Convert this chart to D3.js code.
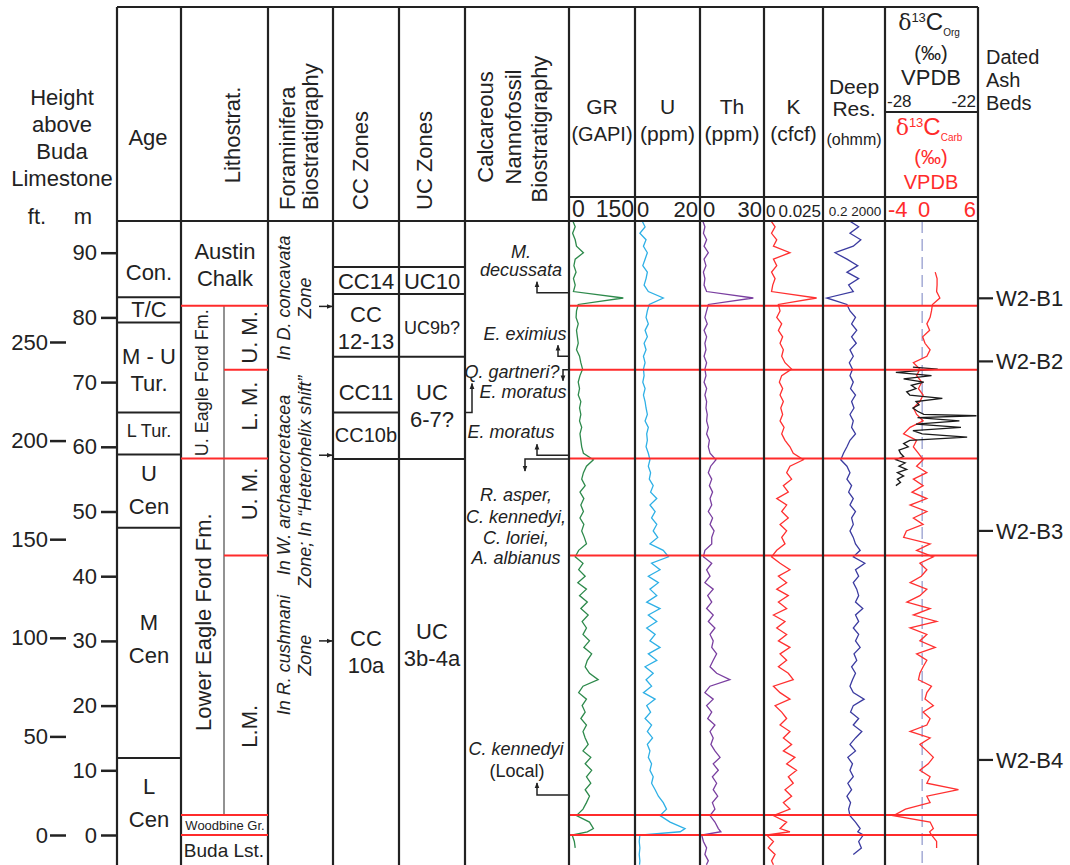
<!DOCTYPE html>
<html>
<head>
<meta charset="utf-8">
<script src="https://cdn.jsdelivr.net/npm/d3@7"></script>
<style>
body { margin: 0; background: #fff; }
svg { display: block; }
text { font-family: Arial, "Liberation Sans", sans-serif; fill: #222; }
</style>
</head>
<body>
<div id="chart"></div>
<script>
// depth grid of the logs (m above Buda Limestone)
var depthM = [95,94,93,92,91,90,89,88,87,86, 85,84,83,82,81,80,79,78,77,76,
  75,74,73,72,71,70,69,68,67,66, 65,64,63,62,61,60,59,58,57,56,
  55,54,53,52,51,50,49,48,47,46, 45,44,43,42,41,40,39,38,37,36,
  35,34,33,32,31,30,29,28,27,26, 25,24,23,22,21,20,19,18,17,16,
  15,14,13,12,11,10,9,8,7,6, 5,4,3,2,1, 0.5,0,-1,-2,-3,-4,-4.6];

var grVals = [6,12,6,12,15,31,12,9,14,8, 12,8,123,19,15,14,19,15,17,19,
  15,22,25,29,23,19,22,19,25,22, 25,22,27,23,25,27,31,54,38,31,
  27,35,23,32,25,31,23,32,27,33, 38,20,12,30,20,35,18,38,22,40,
  25,42,28,38,30,45,32,50,40,35, 45,65,30,20,38,28,35,25,38,30,
  35,42,30,48,35,50,38,48,35,45, 38,30,15,45,54, 40,5,10,12,null,null,null];

var uVals = [2.1,3.1,1.5,3.4,2.6,3.8,3.1,2.4,3.8,3.4, 2.8,4.1,8.7,4.4,3.8,3.4,4.1,3.1,3.8,2.8,
  3.4,2.6,3.1,2.6,2.8,2.4,3.1,2.6,3.1,3.4, 3.8,3.1,4.1,3.6,3.8,3.4,4.1,4.6,4.1,4.8,
  4.4,5.6,4.8,6.7,4.6,6.2,5.1,6.7,5.6,7.0, 4.6,8.7,10.3,5.1,7.7,4.1,7.2,4.6,6.7,3.6,
  7.7,4.1,6.7,3.6,6.2,4.6,7.7,4.1,6.7,3.1, 5.6,3.4,5.1,2.6,6.2,3.6,4.8,3.1,5.1,3.8,
  5.4,3.8,4.6,4.1,5.1,4.6,5.6,5.1,6.2,7.2, 8.7,9.7,7.7,10.8,15.4, 13.9,1.5,1.3,1.5,1.3,1.5,1.4];

var thVals = [1.2,2.3,1.6,3.1,1.9,3.9,1.9,2.8,1.6,2.3, 1.9,3.1,25,3.9,3.1,2.3,3.4,1.9,3.1,2.3,
  2.8,1.9,3.1,2.3,2.8,1.9,3.1,2.3,3.1,2.8, 3.4,3.1,3.9,3.1,4.4,3.9,4.7,7.5,5.0,3.9,
  5.5,4.4,5.9,4.7,5.5,3.9,5.9,4.7,6.6,5.5, 5.5,2.3,1.6,5.5,3.1,4.7,2.3,6.2,3.6,5.5,
  3.1,6.2,3.9,7.0,4.7,6.2,5.5,7.8,6.2,4.7, 7.8,14.0,4.7,2.3,6.2,3.1,5.5,3.6,7.0,4.7,
  6.2,5.1,7.0,9.4,6.2,8.6,5.8,7.8,6.2,8.3, 5.8,7.0,4.7,7.0,8.6, 9.8,0.8,1.6,3.1,2.3,3.9,3.0];

var kVals = [.0028,.0047,.0032,.0054,.0040,.0110,.0040,.0054,.0032,.0047,
  .0037,.0032,.0223,.0061,.0068,.0054,.0075,.0061,.0079,.0068,
  .0082,.0075,.0089,.0117,.0075,.0065,.0079,.0068,.0082,.0071,
  .0079,.0068,.0085,.0075,.0089,.0110,.0124,.0167,.0110,.0096,
  .0117,.0082,.0103,.0054,.0096,.0075,.0103,.0068,.0096,.0075,
  .0089,.0054,.0032,.0068,.0110,.0061,.0096,.0054,.0103,.0061,
  .0096,.0040,.0089,.0054,.0096,.0061,.0110,.0068,.0096,.0061,
  .0103,.0124,.0040,.0068,.0110,.0047,.0075,.0096,.0068,.0110,
  .0082,.0117,.0082,.0131,.0096,.0138,.0103,.0124,.0089,.0117,
  .0082,.0110,.0040,.0096,.0068, .0110,.0011,.0040,.0018,.0047,.0032,.0040];

var resVals = [9,40,11,55,18,1.2,7,35,7,40, 9,18,0.35,7,11,25,14,30,14,28,
  11,18,10,16,11,18,12,25,14,20, 11,18,14,25,11,7,4.2,2.8,7,11,
  7,14,9,18,11,25,14,18,11,18, 25,50,18,100,25,40,18,30,40,25,
  74,25,40,18,40,25,50,20,30,14, 25,16,11,18,90,18,12,40,18,64,
  25,11,25,8,16,11,18,8,14,7, 12,9,11,25,50, 35,80,40,60,18,null,null];

var carbVals = [null,null,null,null,null,null,null,null,1.4,1.6,
  1.6,1.55,1.9,1.1,1.0,0.85,0.5,0.8,0.05,0.3,
  0.85,0.5,-0.95,-0.25,-0.6,-0.05,-0.4,0.1,-0.25,-0.95,
  -0.6,0.1,-1.3,-2.0,-0.6,-0.95,-0.4,0.1,-0.6,0.5,
  -0.95,0.1,-1.1,0.5,-1.3,0.5,-0.95,0.1,-1.7,-2.0,
  0.85,-0.6,1.2,-0.25,0.5,-0.1,-1.3,0.5,-0.25,-1.65,
  0.85,-0.95,1.55,-1.3,0.5,-0.25,1.4,-0.6,0.5,0.1,
  -0.25,-0.4,1.0,0.5,0.3,1.2,0.1,0.85,0.5,-1.3,
  0.85,-0.25,0.5,1.2,0.65,-0.25,0.85,0.5,3.9,0.5,
  0.85,-1.8,-3.1,0.85,1.2, 0.8,1.0,1.55,1.55,null,null,null];

var orgDepth = [72.3,72,71.5,71,70.5,70,69.5,69,68.5,68, 67.5,67,66.5,66,65.5,65,64.8,64.5,64,63.5,
  63,62.5,62,61.5,61,60.5,60,59.5,59,58.5, 58,57.5,57,56.5,56,55.5,55,54.5,54];
var orgVals = [-26.2,-24.6,-27.3,-25.0,-26.8,-25.5,-26.3,-26.0,-26.6,-26.4,
  -24.3,-26.0,-25.8,-26.2,-25.9,-25.5,-22.1,-25.9,-23.2,-26.0,
  -23.1,-26.2,-25.6,-22.7,-26.4,-26.8,-26.5,-27.1,-27.0,-26.8,
  -27.3,-26.7,-27.1,-26.6,-27.2,-26.8,-27.2,-27.0,-27.3];

var mTicks = [0,10,20,30,40,50,60,70,80,90];
var ftTicks = [0,50,100,150,200,250];

var ageBounds = [83.1, 79.2, 65.3, 58.8, 47.5, 11.9];
var ageLabels = [["Con."], ["T/C"], ["M - U", "Tur."], ["L Tur."], ["U", "Cen"], ["M", "Cen"], ["L", "Cen"]];
var ageLabelDepth = [87.0, 81.25, 71.9, 62.5, 53.3, 30.4, 5.0];

var lithoRedFull = [81.8, 58.2, 3.1, 0];
var lithoRedSub = [71.9, 43.2];
var logRedLines = [81.8, 71.9, 58.2, 43.2, 3.1, 0];

var ccBounds = [87.8, 83.6, 73.9, 65.3, 58.1];
var ccLabels = [["CC14"], ["CC", "12-13"], ["CC11"], ["CC10b"], ["CC", "10a"]];
var ccLabelDepth = [85.55, 78.4, 68.5, 61.8, 28.3];
var ucBounds = [87.8, 83.6, 73.9, 58.1];
var ucLabels = [["UC10"], ["UC9b?"], ["UC", "6-7?"], ["UC", "3b-4a"]];
var ucLabelDepth = [85.55, 78.35, 66.3, 29.4];

var foramArrowDepth = [81.7, 58.7, 30.0];
var nannoLines = ["M.", "decussata", "E. eximius", "Q. gartneri?", "E. moratus", "E. moratus",
  "R. asper,", "C. kennedyi,", "C. loriei,", "A. albianus", "C. kennedyi", "(Local)"];
var nannoLineDepth = [90.15, 87.3, 77.5, 71.6, 68.5, 62.3, 52.55, 49.2, 45.9, 42.8, 13.4, 10.0];

var ashNames = ["W2-B1", "W2-B2", "W2-B3", "W2-B4"];
var ashDepth = [82.95, 73.2, 47.0, 11.6];

// ---------------- layout ----------------
var W = 1070, H = 865;
var colX = [117, 181, 268, 333, 399, 465, 569, 635, 700, 764, 823, 885, 978];
var frameTop = 7, headBot = 221, scaleTop = 197, isoSplit = 112;
var ink = "#222", red = "#ff2b2b";

var svg = d3.select("#chart").append("svg")
    .attr("width", W)
    .attr("height", H);
svg.append("rect").attr("width", W).attr("height", H).attr("fill", "#fff");

var yM = d3.scaleLinear().domain([0, 90]).range([835, 252.7]);
var pxPerM = (835 - 252.7) / 90;
var yFt = d3.scaleLinear().domain([0, 250]).range([835, 835 - 250 * 0.3048 * pxPerM]);

var xGR = d3.scaleLinear().domain([0, 150]).range([570, 635]);
var xU = d3.scaleLinear().domain([0, 20]).range([635, 700]);
var xTh = d3.scaleLinear().domain([0, 30]).range([700, 764]);
var xK = d3.scaleLinear().domain([0, 0.025]).range([764, 823]);
var xRes = d3.scaleLog().domain([0.2, 2000]).range([823, 885]);
var xCarb = d3.scaleLinear().domain([-4, 6]).range([885, 978]);
var xOrg = d3.scaleLinear().domain([-28, -22]).range([885, 978]);

svg.append("defs").append("marker")
    .attr("id", "ah")
    .attr("viewBox", "0 0 10 10")
    .attr("refX", 9).attr("refY", 5)
    .attr("markerWidth", 6).attr("markerHeight", 6)
    .attr("markerUnits", "userSpaceOnUse")
    .attr("orient", "auto")
  .append("path").attr("d", "M0,1L10,5L0,9z").attr("fill", ink);

svg.select("defs").append("clipPath").attr("id", "body")
  .append("rect").attr("x", 0).attr("y", headBot).attr("width", W).attr("height", H - headBot);

function addText(x, y, str, size, o) {
    o = o || {};
    var t = svg.append("text")
        .attr("x", x).attr("y", y)
        .attr("font-size", size)
        .attr("text-anchor", o.anchor || "middle")
        .attr("dy", o.dy == null ? "0.35em" : o.dy)
        .text(str);
    if (o.italic) t.attr("font-style", "italic");
    if (o.fill) t.style("fill", o.fill);
    if (o.rot) t.attr("transform", "rotate(-90," + x + "," + y + ")");
    return t;
}
function hline(x1, x2, y, color, w) {
    svg.append("line").attr("x1", x1).attr("x2", x2).attr("y1", y).attr("y2", y)
        .attr("stroke", color || ink).attr("stroke-width", w || 2);
}
function multiLine(x, yc, lines, size, gap, o) {
    var n = lines.length;
    lines.forEach(function(s, i) {
        addText(x, yc + (i - (n - 1) / 2) * gap, s, size, o);
    });
}

// ---------------- log curves ----------------
var logs = [
    {vals: grVals, x: xGR, color: "#2e8a4c"},
    {vals: uVals, x: xU, color: "#2eb0e6"},
    {vals: thVals, x: xTh, color: "#7a3fa0"},
    {vals: kVals, x: xK, color: "#ff3030"},
    {vals: resVals, x: xRes, color: "#3b3ba0"},
    {vals: carbVals, x: xCarb, color: "#ff3030"}
];
var curves = svg.append("g").attr("clip-path", "url(#body)");

// dashed zero line of the carbonate isotope
curves.append("line")
    .attr("x1", xCarb(0)).attr("x2", xCarb(0))
    .attr("y1", headBot).attr("y2", H)
    .attr("stroke", "#aab0d8").attr("stroke-width", 1.6)
    .attr("stroke-dasharray", "12,6");

logs.forEach(function(l) {
    var line = d3.line()
        .defined(function(d, i) { return l.vals[i] != null; })
        .x(function(d, i) { return l.x(l.vals[i]); })
        .y(function(d) { return yM(d); });
    curves.append("path")
        .datum(depthM)
        .attr("d", line)
        .attr("fill", "none")
        .attr("stroke", l.color)
        .attr("stroke-width", 1.3);
});

var orgLine = d3.line()
    .x(function(d, i) { return xOrg(orgVals[i]); })
    .y(function(d) { return yM(d); });
curves.append("path")
    .datum(orgDepth)
    .attr("d", orgLine)
    .attr("fill", "none")
    .attr("stroke", "#1a1a1a")
    .attr("stroke-width", 1.3);

// red marker horizons across the logs
logRedLines.forEach(function(d) { hline(colX[6], colX[12], yM(d), red, 2); });

// ---------------- frame and columns ----------------
hline(colX[0], colX[12], frameTop, ink, 2.2);
hline(colX[0], colX[12], headBot, ink, 2.2);
hline(colX[6], colX[12], scaleTop, ink, 2);
hline(colX[11], colX[12], isoSplit, ink, 2);
colX.forEach(function(x) {
    svg.append("line").attr("x1", x).attr("x2", x).attr("y1", frameTop).attr("y2", H)
        .attr("stroke", ink).attr("stroke-width", 2.2);
});

// depth axes
var mAxis = svg.append("g")
    .attr("transform", "translate(" + colX[0] + ",0)")
    .call(d3.axisLeft(yM).tickValues(mTicks).tickSize(16).tickPadding(4));
var ftAxis = svg.append("g")
    .attr("transform", "translate(66,0)")
    .call(d3.axisLeft(yFt).tickValues(ftTicks).tickSize(16).tickPadding(2));
[mAxis, ftAxis].forEach(function(a) {
    a.select(".domain").remove();
    a.attr("font-size", 22).attr("font-family", "Arial, 'Liberation Sans', sans-serif");
    a.selectAll("line").attr("stroke", ink).attr("stroke-width", 2.5);
    a.selectAll("text").style("fill", ink);
});

// ---------------- headers ----------------
multiLine(62, 137.5, ["Height", "above", "Buda", "Limestone"], 22, 27);
addText(37, 216, "ft.", 22);
addText(83, 216, "m", 22);
addText(148, 137, "Age", 22);
addText(240, 135, "Lithostrat.", 22, {rot: true, dy: 0});
addText(295, 210, "Foraminifera", 22, {rot: true, dy: 0, anchor: "start"});
addText(318, 210, "Biostratigraphy", 22, {rot: true, dy: 0, anchor: "start"});
addText(368, 210, "CC Zones", 22, {rot: true, dy: 0, anchor: "start"});
addText(432, 210, "UC Zones", 22, {rot: true, dy: 0, anchor: "start"});
addText(493, 127, "Calcareous", 22, {rot: true, dy: 0});
addText(521, 127, "Nannofossil", 22, {rot: true, dy: 0});
addText(547, 129, "Biostratigraphy", 22, {rot: true, dy: 0});

addText(602, 107, "GR", 21);
addText(602, 134, "(GAPI)", 20);
addText(667.5, 107, "U", 21);
addText(667.5, 134, "(ppm)", 21);
addText(732, 107, "Th", 21);
addText(732, 134, "(ppm)", 21);
addText(793.5, 107, "K", 21);
addText(793.5, 134, "(cfcf)", 21);
addText(854, 87, "Deep", 21);
addText(854, 109, "Res.", 21);
addText(854, 139, "(ohmm)", 16);

function isoLabel(y, sub, color) {
    var t = svg.append("text").attr("x", 929).attr("y", y).attr("text-anchor", "middle")
        .style("fill", color);
    t.append("tspan").attr("font-size", 22)
        .attr("font-family", "'DejaVu Serif', 'Liberation Serif', serif").text("δ");
    t.append("tspan").attr("font-size", 13).attr("dy", -8).text("13");
    t.append("tspan").attr("font-size", 24).attr("dy", 8).text("C");
    t.append("tspan").attr("font-size", 10).attr("dy", 6).text(sub);
}
isoLabel(30, "Org", ink);
addText(931, 53, "(‰)", 20);
addText(931, 77, "VPDB", 22);
addText(887, 101, "-28", 17, {anchor: "start"});
addText(976, 101, "-22", 17, {anchor: "end"});
isoLabel(135, "Carb", red);
addText(931, 157, "(‰)", 20, {fill: red});
addText(931, 182, "VPDB", 20, {fill: red});

multiLine(986, 80, ["Dated", "Ash", "Beds"], 20, 23, {anchor: "start"});

// scale row
var sy = 217;
addText(572, sy, "0", 23, {anchor: "start", dy: 0});
addText(634, sy, "150", 23, {anchor: "end", dy: 0});
addText(637, sy, "0", 22, {anchor: "start", dy: 0});
addText(698, sy, "20", 22, {anchor: "end", dy: 0});
addText(703, sy, "0", 22, {anchor: "start", dy: 0});
addText(762, sy, "30", 22, {anchor: "end", dy: 0});
addText(766, sy, "0", 17, {anchor: "start", dy: 0});
addText(821, sy, "0.025", 17, {anchor: "end", dy: 0});
addText(855, sy - 1, "0.2 2000", 13.5, {dy: 0});
addText(888, sy, "-4", 22, {anchor: "start", dy: 0, fill: red});
addText(924, sy, "0", 22, {dy: 0, fill: red});
addText(976, sy, "6", 22, {anchor: "end", dy: 0, fill: red});

// ---------------- age column ----------------
ageBounds.forEach(function(d) { hline(colX[0], colX[1], yM(d)); });
ageLabels.forEach(function(lines, i) {
    var size = lines[0] === "L Tur." ? 18 : 22;
    var gap = lines[0] === "M - U" ? 27 : 33;
    multiLine(149, yM(ageLabelDepth[i]), lines, size, gap);
});

// ---------------- lithostratigraphy ----------------
svg.append("line").attr("x1", 224).attr("x2", 224)
    .attr("y1", yM(81.8)).attr("y2", yM(3.1))
    .attr("stroke", "#777").attr("stroke-width", 1.6);
lithoRedFull.forEach(function(d) { hline(colX[1], colX[2], yM(d), red, 2); });
lithoRedSub.forEach(function(d) { hline(224, colX[2], yM(d), red, 2); });
multiLine(225, yM(88.1), ["Austin", "Chalk"], 22, 27);
addText(208, yM(69.9), "U. Eagle Ford Fm.", 18, {rot: true, dy: 0});
addText(257, yM(76.9), "U. M.", 22, {rot: true, dy: 0});
addText(257, yM(66.3), "L. M.", 22, {rot: true, dy: 0});
addText(257, yM(52.7), "U. M.", 22, {rot: true, dy: 0});
addText(211, yM(32.9), "Lower Eagle Ford Fm.", 22, {rot: true, dy: 0});
addText(257, yM(16.8), "L.M.", 22, {rot: true, dy: 0});
addText(225, yM(1.4), "Woodbine Gr.", 13);
addText(224, yM(-2.3), "Buda Lst.", 19);

// ---------------- foraminifera ----------------
addText(290, yM(83.0), "In D. concavata", 18, {rot: true, dy: 0, italic: true});
addText(311, yM(83.0), "Zone", 18, {rot: true, dy: 0, italic: true});
addText(290, yM(54.1), "In W. archaeocretacea", 18, {rot: true, dy: 0, italic: true});
addText(311, yM(54.6), "Zone; In \u201CHeterohelix shift\u201D", 18, {rot: true, dy: 0, italic: true});
addText(290, yM(27.8), "In R. cushmani", 18, {rot: true, dy: 0, italic: true});
addText(311, yM(27.8), "Zone", 18, {rot: true, dy: 0, italic: true});
foramArrowDepth.forEach(function(d) {
    svg.append("line").attr("x1", 319).attr("x2", 332).attr("y1", yM(d)).attr("y2", yM(d))
        .attr("stroke", ink).attr("stroke-width", 1.5).attr("marker-end", "url(#ah)");
});

// ---------------- CC / UC zones ----------------
ccBounds.forEach(function(d) { hline(colX[3], colX[4], yM(d)); });
ucBounds.forEach(function(d) { hline(colX[4], colX[5], yM(d)); });
ccLabels.forEach(function(lines, i) {
    var size = lines[0] === "CC10b" ? 20 : 22;
    multiLine(366, yM(ccLabelDepth[i]), lines, size, 27);
});
ucLabels.forEach(function(lines, i) {
    var size = lines[0] === "UC9b?" ? 18 : 22;
    multiLine(432, yM(ucLabelDepth[i]), lines, size, 27);
});

// ---------------- nannofossil datums ----------------
var nannoX = [521, 521, 525, 512, 523, 511, 516, 516, 516, 516, 516, 517];
nannoLines.forEach(function(s, i) {
    addText(nannoX[i], yM(nannoLineDepth[i]), s, 18, {italic: s !== "(Local)"});
});
function elbow(pts) {
    svg.append("path")
        .attr("d", d3.line()(pts))
        .attr("fill", "none").attr("stroke", ink).attr("stroke-width", 1.5)
        .attr("marker-end", "url(#ah)");
}
elbow([[569, yM(83.8)], [537, yM(83.8)], [537, yM(83.8) - 11]]);
elbow([[569, yM(74.0)], [558, yM(74.0)], [558, yM(74.0) - 11]]);
elbow([[569, yM(71.9)], [563, yM(71.9)], [563, yM(71.9) + 11]]);
elbow([[465, yM(65.3)], [472, yM(65.3)], [472, yM(65.3) - 29]]);
elbow([[569, yM(58.7)], [537, yM(58.7)], [537, yM(58.7) - 11]]);
elbow([[569, yM(58.1)], [525, yM(58.1)], [525, yM(58.1) + 12]]);
elbow([[569, yM(6.2)], [537, yM(6.2)], [537, yM(6.2) - 12]]);

// ---------------- dated ash beds ----------------
ashNames.forEach(function(s, i) {
    var y = yM(ashDepth[i]);
    hline(colX[12], 993, y, ink, 2.2);
    addText(996, y, s, 22, {anchor: "start"});
});
</script>
</body>
</html>
